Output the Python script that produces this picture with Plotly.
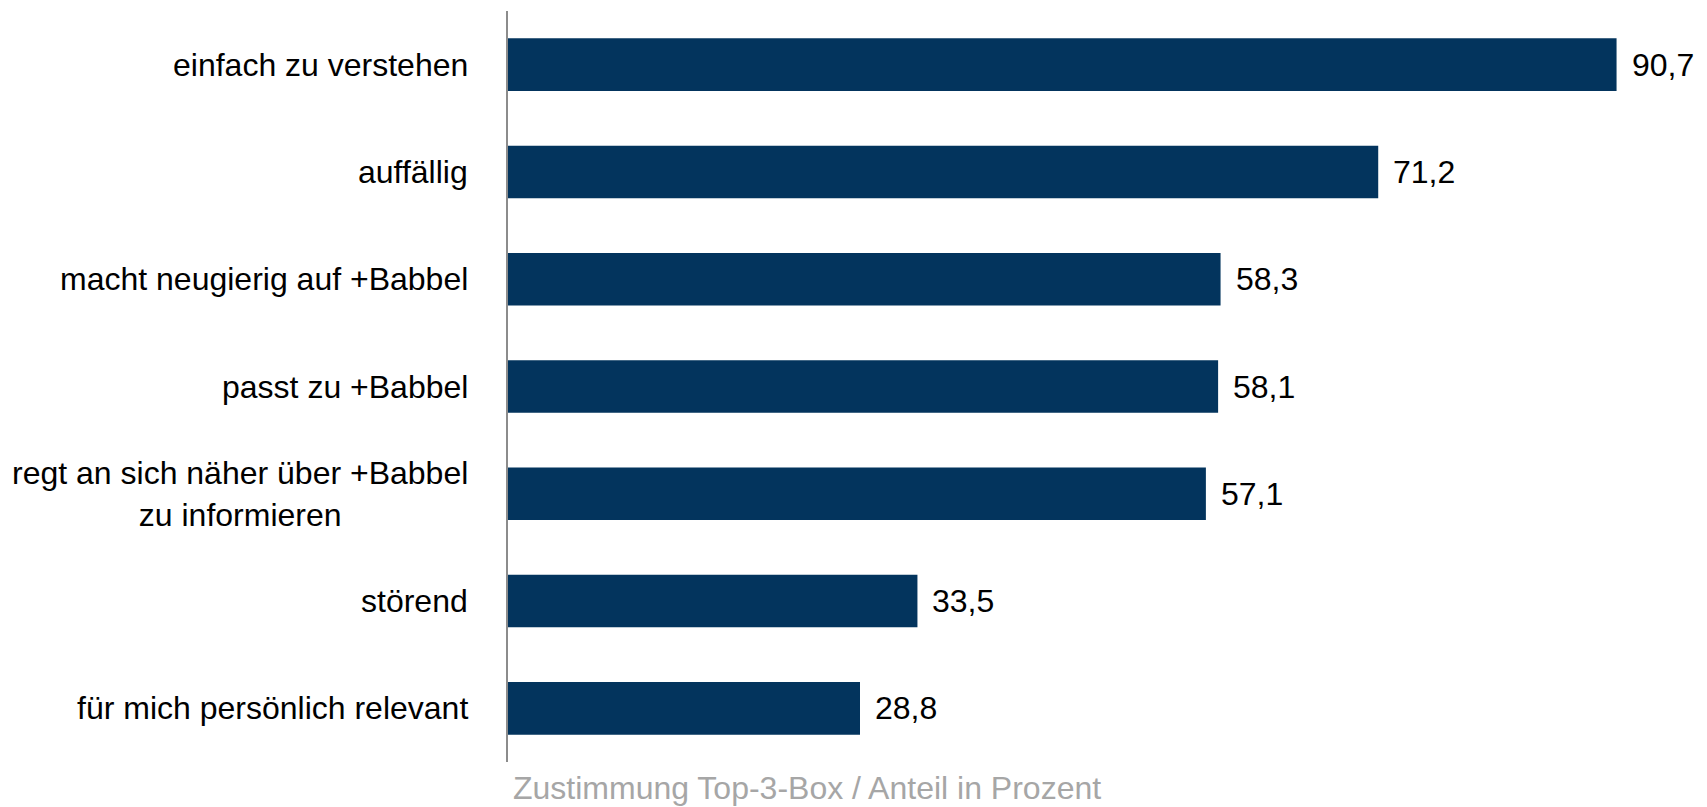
import plotly.graph_objects as go

categories = [
    "einfach zu verstehen",
    "auffällig",
    "macht neugierig auf +Babbel",
    "passt zu +Babbel",
    "regt an sich näher über +Babbel<br>zu informieren",
    "störend",
    "für mich persönlich relevant",
]
values = [90.7, 71.2, 58.3, 58.1, 57.1, 33.5, 28.8]
axis_title = "Zustimmung Top-3-Box / Anteil in Prozent"

BAR_COLOR = "#03345D"
FONT = "Liberation Sans, Arial, sans-serif"
FS = 32

fig = go.Figure()
fig.add_trace(go.Bar(
    y=categories,
    x=values,
    orientation="h",
    marker=dict(color=BAR_COLOR, line=dict(width=0)),
    hoverinfo="skip",
))

annotations = []
for c, v in zip(categories, values):
    annotations.append(dict(
        x=v, y=c, xref="x", yref="y",
        text=f"{v:.1f}".replace(".", ","),
        showarrow=False, xanchor="left", yanchor="middle",
        xshift=13, font=dict(family=FONT, size=FS, color="#000000"),
    ))
    annotations.append(dict(
        x=0, y=c, xref="paper", yref="y",
        text=c, align="center",
        showarrow=False, xanchor="right", yanchor="middle",
        xshift=-38, font=dict(family=FONT, size=FS, color="#000000"),
    ))
annotations.append(dict(
    x=0, y=0, xref="paper", yref="paper",
    text=axis_title, showarrow=False,
    xanchor="left", yanchor="middle", xshift=3, yshift=-26,
    font=dict(family=FONT, size=FS, color="#A6A6A6"),
))

# page has an 8px body margin; compensate so the chart lands where the reference has it
fig.update_layout(
    width=1699, height=799,
    margin=dict(l=500, r=0, t=3, b=45),
    plot_bgcolor="white", paper_bgcolor="white",
    showlegend=False,
    bargap=0.51,
    font=dict(family=FONT, size=FS, color="#000000"),
    annotations=annotations,
    xaxis=dict(range=[0, 98.1], showgrid=False, zeroline=False,
               showticklabels=False, showline=False, fixedrange=True),
    yaxis=dict(autorange=False, range=[len(categories) - 0.5, -0.5],
               categoryorder="array", categoryarray=categories,
               showgrid=False, zeroline=False, showticklabels=False,
               showline=True, linecolor="#8C8C8C", linewidth=1.5,
               fixedrange=True),
)

fig.write_html("out.html")
